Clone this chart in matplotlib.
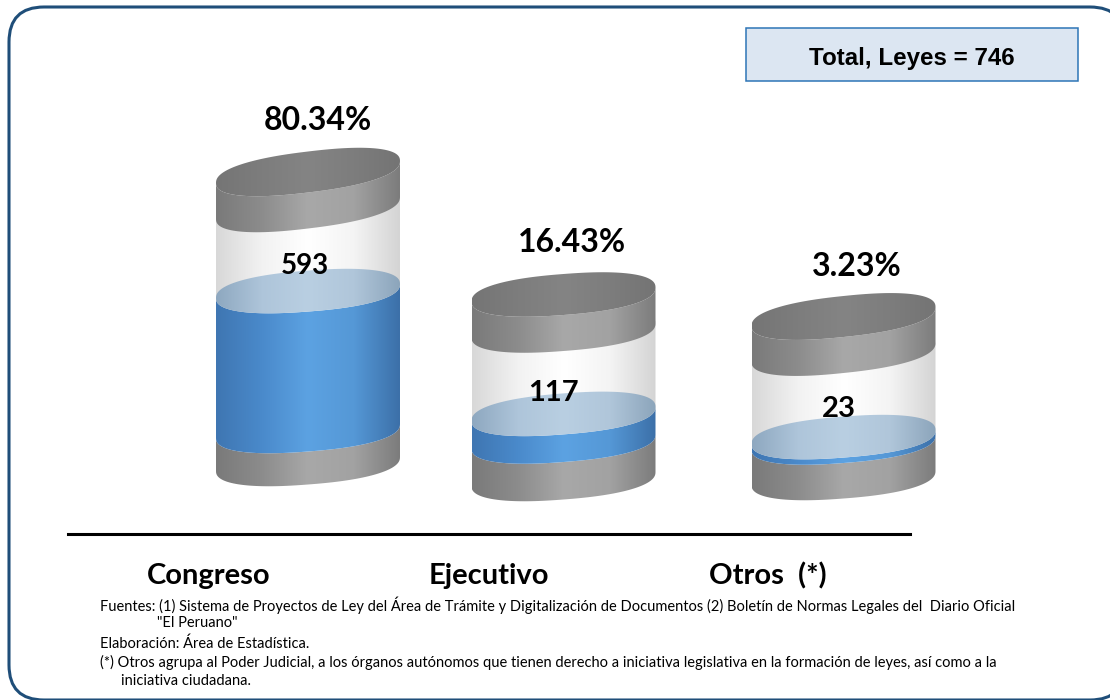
import matplotlib
matplotlib.use("Agg")
import matplotlib.pyplot as plt
from matplotlib.patches import FancyBboxPatch, Polygon, Rectangle
import numpy as np

categories = ["Congreso", "Ejecutivo", "Otros  (*)"]
laws = [593, 117, 23]
shares = [80.34, 16.43, 3.23]
total_laws = 746

footnotes = [
    'Fuentes: (1) Sistema de Proyectos de Ley del Área de Trámite y Digitalización de Documentos (2) Boletín de Normas Legales del  Diario Oficial',
    '"El Peruano"',
    'Elaboración: Área de Estadística.',
    '(*) Otros agrupa al Poder Judicial, a los órganos autónomos que tienen derecho a iniciativa legislativa en la formación de leyes, así como a la',
    'iniciativa ciudadana.',
]

# layout in pixels
PX_PER_LAW = 0.236
HALF_W = 92
TILT = 7
HALF_H = 20.5
ROUND = 0.85
SLAB_TOP = 36
cyl_x = [308, 563.5, 843.5]
cyl_top = [172, 294.5, 316.5]
lid_tilt = [11, 7, 9.5]
cyl_base = [431, 441.5, 442.5]
cyl_bottom = [464, 479, 478]
cat_x = [209, 489, 768]
share_pos = [(318, 120), (572, 243), (857, 266)]
count_pos = [(305, 266), (553, 393), (838.5, 409)]
foot_pos = [(100, 605), (157, 623), (100, 644), (100, 662), (121, 681)]

GRAY = ["#7a7a7a", "#8c8c8c", "#a8a8a8", "#a2a2a2", "#7c7c7c"]
GLASS = ["#d8d8d8", "#f2f2f2", "#ffffff", "#f4f4f4", "#d4d4d4"]
BLUE = ["#3f76b2", "#4a8acb", "#5ca2e2", "#5598d6", "#3c70a8"]
LID = ["#757575", "#7d7d7d", "#848484", "#7d7d7d", "#747474"]
WATER = ["#8ea8c0", "#aec5da", "#b9cfe2", "#b0c6da", "#8ca5bb"]


def ellipse_arc(cx, cy, t, tilt):
    # slightly blunt ellipse, sheared so the right side sits higher
    c = np.sign(np.cos(t)) * np.abs(np.cos(t)) ** ROUND
    s = np.sign(np.sin(t)) * np.abs(np.sin(t)) ** ROUND
    return cx + HALF_W * c, cy + HALF_H * s - tilt * c


def gradient(ax, colors, patch, cx, top, bottom, z):
    rgb = np.array([matplotlib.colors.to_rgb(c) for c in colors])
    pos = np.linspace(0, 1, len(colors))
    xs = np.linspace(0, 1, 200)
    img = np.stack([np.interp(xs, pos, rgb[:, i]) for i in range(3)], axis=1)[None, :, :]
    ax.add_patch(patch)
    im = ax.imshow(img, extent=(cx - HALF_W, cx + HALF_W, bottom, top),
                   aspect="auto", zorder=z, interpolation="bilinear")
    im.set_clip_path(patch)


def draw_side(ax, cx, upper, lower, colors, z, tilt=TILT):
    t = np.linspace(np.pi, 0, 80)
    x1, y1 = ellipse_arc(cx, upper, t, tilt)
    x2, y2 = ellipse_arc(cx, lower, t, tilt)
    pts = np.vstack([np.column_stack([x1, y1]), np.column_stack([x2, y2])[::-1]])
    patch = Polygon(pts, closed=True, facecolor="none", edgecolor="none")
    gradient(ax, colors, patch, cx, upper - 40, lower + 40, z)


def draw_face(ax, cx, cy, colors, z, tilt=TILT):
    t = np.linspace(0, 2 * np.pi, 160)
    x, y = ellipse_arc(cx, cy, t, tilt)
    patch = Polygon(np.column_stack([x, y]), closed=True, facecolor="none", edgecolor="none")
    gradient(ax, colors, patch, cx, cy - 40, cy + 40, z)


def main() -> None:
    fig = plt.figure(figsize=(11.1, 7), dpi=100)
    ax = fig.add_axes([0, 0, 1, 1])
    ax.set_xlim(0, 1110)
    ax.set_ylim(700, 0)
    ax.axis("off")

    # outer frame
    ax.add_patch(FancyBboxPatch((9, 7), 1116, 693, boxstyle="round,pad=0,rounding_size=35",
                                facecolor="white", edgecolor="#1f4e79", linewidth=2.2, zorder=1))

    # cylinders
    for i, value in enumerate(laws):
        cx = cyl_x[i]
        level = cyl_base[i] - value * PX_PER_LAW
        slab_end = cyl_top[i] + SLAB_TOP
        draw_side(ax, cx, slab_end - 5, level, GLASS, 2)
        draw_side(ax, cx, cyl_base[i], cyl_bottom[i], GRAY, 3)
        draw_side(ax, cx, level, cyl_base[i], BLUE, 4)
        draw_face(ax, cx, level, WATER, 5)
        draw_side(ax, cx, cyl_top[i], slab_end, GRAY, 6, lid_tilt[i])
        draw_face(ax, cx, cyl_top[i], LID, 7, lid_tilt[i])

        ax.text(*count_pos[i], str(value), ha="center", va="center", family="Lato",
                fontweight="bold", fontsize=21 if i else 20, color="black", zorder=8)
        ax.text(*share_pos[i], f"{shares[i]:.2f}%", ha="center", va="center", family="Lato",
                fontweight="bold", fontsize=23, color="black", zorder=8)
        ax.text(cat_x[i], 576, categories[i], ha="center", va="center", family="Lato",
                fontweight="bold", fontsize=21, color="black", zorder=8)

    # axis line
    ax.plot([68, 910], [534, 534], color="black", linewidth=2.2, zorder=8)

    # total box
    ax.add_patch(Rectangle((745.5, 28), 332.5, 53, facecolor="#dce6f2", edgecolor="#2e75b6",
                           linewidth=1.1, zorder=8))
    ax.text(911.5, 59, f"Total, Leyes = {total_laws}", ha="center", va="center",
            family="Liberation Sans", fontweight="bold", fontsize=17.4, color="black", zorder=9)

    for (x, y), line in zip(foot_pos, footnotes):
        ax.text(x, y, line, ha="left", va="center", family="Lato", fontsize=10.5,
                color="black", zorder=8)

    fig.savefig("out.png", dpi=100)


if __name__ == "__main__":
    main()
